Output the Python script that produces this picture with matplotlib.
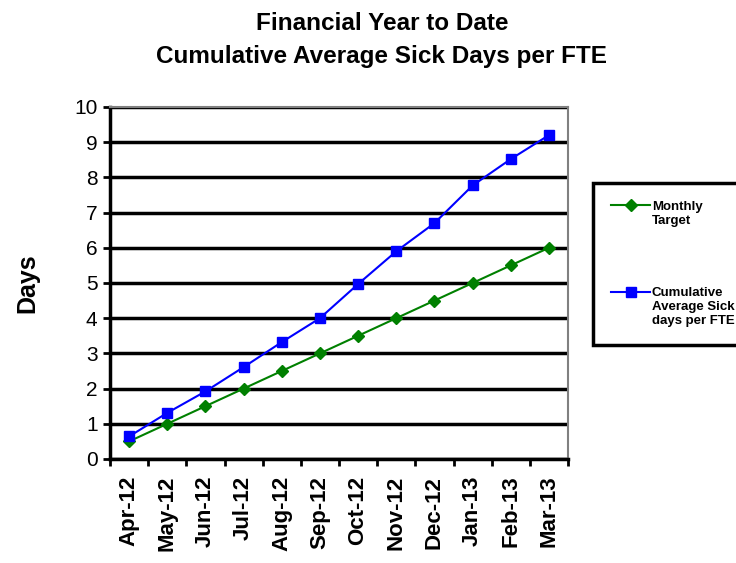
import numpy as np
import matplotlib
matplotlib.use("Agg")
import matplotlib.pyplot as plt

months = ["Apr-12", "May-12", "Jun-12", "Jul-12", "Aug-12", "Sep-12",
          "Oct-12", "Nov-12", "Dec-12", "Jan-13", "Feb-13", "Mar-13"]
target = [0.5, 1.0, 1.5, 2.0, 2.5, 3.0, 3.5, 4.0, 4.5, 5.0, 5.5, 6.0]
cumulative = [0.64, 1.31, 1.92, 2.61, 3.32, 4.0, 4.97, 5.9, 6.7, 7.77, 8.52, 9.2]

plt.rcParams['font.family'] = ['Liberation Sans', 'DejaVu Sans']

fig = plt.figure(figsize=(7.36, 5.63), dpi=100)
ax = fig.add_axes([110/736, 1-459/563, (568-110)/736, (459-107)/563])

x = np.arange(len(months))
ax.plot(x, target, color="#008000", lw=1.5, marker="D", ms=6, label="Monthly\nTarget")
ax.plot(x, cumulative, color="#0000ff", lw=1.5, marker="s", ms=7,
        label="Cumulative\nAverage Sick\ndays per FTE")

ax.set_xlim(-0.5, 11.5)
ax.set_ylim(0, 10)
ax.set_yticks(range(0, 11))
ax.tick_params(axis='y', labelsize=15, length=5, width=2, direction='out', pad=4)
ax.yaxis.grid(True, color='black', lw=2.5)
ax.set_axisbelow(True)

ax.set_xticks(x)
ax.set_xticklabels(months, rotation=90, fontsize=16, fontweight='bold')
ax.tick_params(axis='x', length=0, pad=12)
ax.set_xticks(np.arange(-0.5, 12, 1), minor=True)
ax.tick_params(axis='x', which='minor', length=5, width=2)

ax.spines['left'].set_linewidth(2.5)
ax.spines['bottom'].set_linewidth(2.5)
ax.spines['top'].set_color('#808080')
ax.spines['right'].set_color('#808080')
ax.spines['top'].set_linewidth(1.5)
ax.spines['right'].set_linewidth(1.5)

ax.set_ylabel("Days", fontsize=18, fontweight='bold', labelpad=25)

fig.text(382/736, 1-23/563, "Financial Year to Date", ha='center', va='center',
         fontsize=17.5, fontweight='bold')
fig.text(382/736, 1-56/563, "Cumulative Average Sick Days per FTE", ha='center', va='center',
         fontsize=17.5, fontweight='bold')

leg = fig.legend(loc='upper left', bbox_to_anchor=(593/736, 1-183/563),
                 prop={'size': 9.5, 'weight': 'bold'}, fancybox=False,
                 edgecolor='black', handlelength=3.0, labelspacing=4.6,
                 borderpad=1.35, borderaxespad=0, handletextpad=0.1, framealpha=1)
leg.get_frame().set_linewidth(2.5)
# align handle with first line of text, like the original
for col in leg._legend_handle_box.get_children():
    for row in col.get_children():
        row.align = 'top'

fig.savefig("out.png", dpi=100)
